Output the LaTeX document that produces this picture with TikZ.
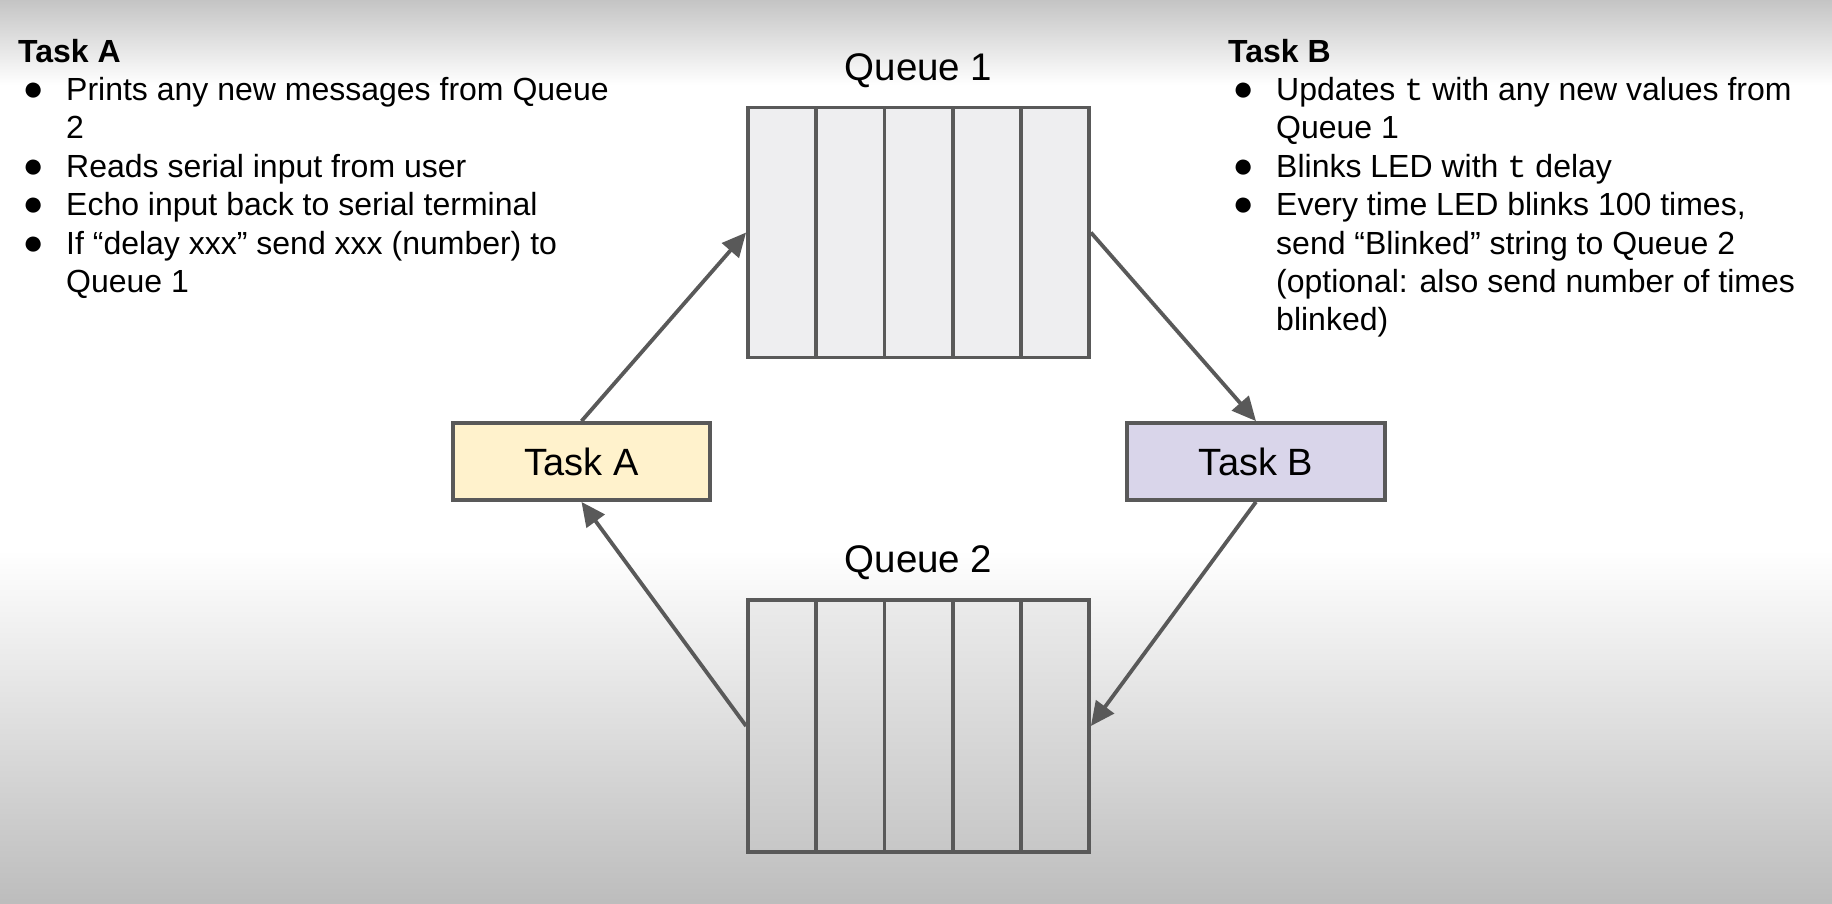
\documentclass[tikz,border=0pt]{standalone}
\usepackage{fontspec}
\setmainfont{Liberation Sans}
\setmonofont{Liberation Mono}
\usetikzlibrary{arrows.meta}
\definecolor{edge}{HTML}{595959}
\definecolor{qfill}{HTML}{EEEEF0}
\definecolor{afill}{HTML}{FFF2CC}
\definecolor{bfill}{HTML}{D9D5EA}
\tikzset{
  queuebox/.style={draw=edge, line width=3.8pt, minimum width=341pt, minimum height=250pt, inner sep=0pt},
  taskbox/.style={draw=edge, line width=3.8pt, minimum width=257pt, minimum height=77pt, inner sep=0pt, font=\fontsize{38}{44}\selectfont},
  qlabel/.style={anchor=base, inner sep=0pt, font=\fontsize{38.5}{44}\selectfont},
  divider/.style={draw=edge, line width=3.8pt},
  arr/.style={draw=edge, line width=3.8pt, -{Triangle[length=24pt,width=22pt]}},
  notes/.style={anchor=base west, inner sep=0pt, align=left, font=\fontsize{32}{38.4}\selectfont}
}
\newcommand{\bul}{\hspace*{15pt}\makebox[0pt]{\scalebox{1.1}{●}}}
\begin{document}
\begin{tikzpicture}[x=1pt,y=-1pt]
\useasboundingbox (0,0) rectangle (1832,903);
% background
\fill[white] (0,0) rectangle (1832,903);
\shade[top color=black!23, bottom color=white] (0,0) rectangle (1832,85);
\shade[top color=white, bottom color=black!26] (0,550) rectangle (1832,903);
% queues
\node[queuebox, fill=qfill] (q1) at (918.5,232.5) {};
\shade[top color=black!8, bottom color=black!22] (748,600) rectangle (1089,852);
\node[queuebox, minimum height=252pt] (q2) at (918.5,726) {};
\foreach \x in {816.2,884.4,952.6,1020.8}{
  \draw[divider] (\x,107.5) -- (\x,357.5);
  \draw[divider] (\x,600) -- (\x,852);
}
\node[qlabel] (q1l) at (918.5,80) {Queue 1};
\node[qlabel] (q2l) at (918.5,572) {Queue 2};
% tasks
\node[taskbox, fill=afill] (ta) at (581.5,461.5) {Task A};
\node[taskbox, fill=bfill, minimum width=258pt] (tb) at (1256,461.5) {Task B};
% arrows
\draw[arr] (ta.north) -- (q1.west);
\draw[arr] (q1.east) -- (tb.north);
\draw[arr] (tb.south) -- (q2.east);
\draw[arr] (q2.west) -- (ta.south);
% notes
\node[notes] (na) at (18,62) {%
\begin{tabular}[t]{@{}p{48pt}@{}l@{}}
\multicolumn{2}{@{}l@{}}{\bfseries Task A}\\
\bul & Prints any new messages from Queue\\
 & 2\\
\bul & Reads serial input from user\\
\bul & Echo input back to serial terminal\\
\bul & If “delay xxx” send xxx (number) to\\
 & Queue 1
\end{tabular}};
\node[notes] (nb) at (1228,62) {%
\begin{tabular}[t]{@{}p{48pt}@{}l@{}}
\multicolumn{2}{@{}l@{}}{\bfseries Task B}\\
\bul & Updates \texttt{t} with any new values from\\
 & Queue 1\\
\bul & Blinks LED with \texttt{t} delay\\
\bul & Every time LED blinks 100 times,\\
 & send “Blinked” string to Queue 2\\
 & (optional: also send number of times\\
 & blinked)
\end{tabular}};
\end{tikzpicture}
\end{document}
